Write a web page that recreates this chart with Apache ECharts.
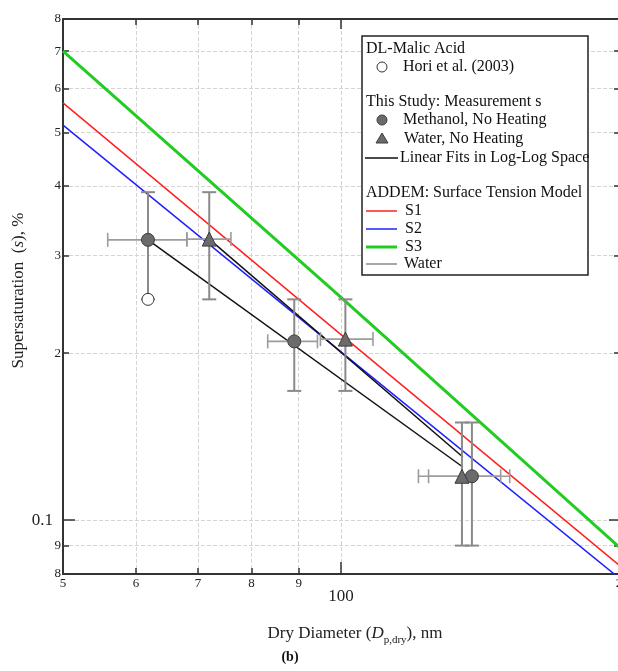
<!DOCTYPE html>
<html><head><meta charset="utf-8">
<script src="https://cdn.jsdelivr.net/npm/echarts@6/dist/echarts.min.js"></script>
<style>html,body{margin:0;padding:0;background:#fff}#c{width:618px;height:671px}</style>
</head><body><div id="c"></div>
<script>
// ---- tick values / labels ----
const xTickValues = [50, 60, 70, 80, 90, 100, 200];
const xTickLabels = ['5', '6', '7', '8', '9', '100', '2'];
const xMinorTicks = [60, 70, 80, 90];
const xMajorTicks = [100];
const yTickValues = [0.08, 0.09, 0.1, 0.2, 0.3, 0.4, 0.5, 0.6, 0.7, 0.8];
const yTickLabels = ['8', '9', '0.1', '2', '3', '4', '5', '6', '7', '8'];
const yMinorTicks = [0.09, 0.2, 0.3, 0.4, 0.5, 0.6, 0.7];
const yMajorTicks = [0.1];

// ---- ADDEM model lines ----
const modelX = [50, 100, 200];
const s1Y = [0.565, 0.216, 0.083];
const s2Y = [0.515, 0.201, 0.0787];
const s3Y = [0.70, 0.252, 0.0895];

// ---- Measurements ----
const methX = [61.8, 89.0, 138.6];
const methY = [0.32, 0.21, 0.12];
const methXLo = [55.9, 83.3, 124.4];
const methXHi = [68.1, 94.3, 152.3];
const methYLo = [0.25, 0.171, 0.09];
const methYHi = [0.39, 0.25, 0.15];

const waterX = [72.0, 101.1, 135.2];
const waterY = [0.321, 0.212, 0.12];
const waterXLo = [68.1, 95.0, 121.3];
const waterXHi = [76.0, 108.3, 148.9];
const waterYLo = [0.25, 0.171, 0.09];
const waterYHi = [0.39, 0.25, 0.15];

const horiX = [61.8];
const horiY = [0.25];

// ---- Linear fits (log-log) ----
const methFitX = [61.8, 135.5];
const methFitY = [0.32, 0.1247];
const waterFitX = [72.0, 135.5];
const waterFitY = [0.321, 0.130];

const FONT = '"Liberation Serif", "Times New Roman", serif';
const zip = (a, b) => a.map((v, i) => [v, b[i]]);
const findLabel = (vals, labs, v) => {
  const i = vals.findIndex(t => Math.abs(t - v) < 1e-3 * t);
  return i < 0 ? '' : labs[i];
};

const chart = echarts.init(document.getElementById('c'), null, {renderer: 'canvas'});

function axisBase(pos) {
  return {
    type: 'log', logBase: 10, position: pos,
    min: pos === 'bottom' || pos === 'top' ? 50 : 0.08,
    max: pos === 'bottom' || pos === 'top' ? 200 : 0.8,
    axisLine: {show: true, onZero: false, lineStyle: {color: '#333', width: 2}},
    axisLabel: {show: false},
    splitLine: {show: false},
    minorTick: {show: false},
    minorSplitLine: {show: false}
  };
}
function ticks(custom, len) {
  return {show: true, inside: true, length: len, customValues: custom, lineStyle: {color: '#333', width: 1.5}};
}
const gridLine = {show: true, lineStyle: {color: '#d4d4d4', type: 'dashed', width: 1}};

const xAxes = [
  Object.assign(axisBase('bottom'), {
    axisTick: ticks(xMinorTicks, 6),
    splitLine: gridLine,
    axisLabel: {
      show: true, customValues: xTickValues, margin: 3,
      formatter: v => {
        const s = findLabel(xTickValues, xTickLabels, v);
        return s === '100' ? '{big|' + s + '}' : '{sm|' + s + '}';
      },
      rich: {
        sm: {fontFamily: FONT, fontSize: 13, color: '#222'},
        big: {fontFamily: FONT, fontSize: 17, color: '#222', padding: [11, 0, 0, 0]}
      }
    },
    name: 'Dry Diameter ({i|D}{sub|p,dry}), nm',
    nameLocation: 'middle', nameGap: 48,
    nameTextStyle: {
      fontFamily: FONT, fontSize: 17, color: '#222', padding: [0, 0, 0, 28], lineHeight: 24,
      rich: {
        i: {fontFamily: FONT, fontSize: 17, fontStyle: 'italic', color: '#222'},
        sub: {fontFamily: FONT, fontSize: 11, color: '#222', verticalAlign: 'bottom', lineHeight: 12}
      }
    }
  }),
  Object.assign(axisBase('bottom'), {axisLine: {show: false}, axisTick: ticks(xMajorTicks, 12), splitLine: gridLine}),
  Object.assign(axisBase('top'), {axisTick: ticks(xMinorTicks, 6)}),
  Object.assign(axisBase('top'), {axisLine: {show: false}, axisTick: ticks(xMajorTicks, 10)})
];
const yAxes = [
  Object.assign(axisBase('left'), {
    axisTick: ticks(yMinorTicks, 6),
    splitLine: gridLine,
    axisLabel: {
      show: true, customValues: yTickValues, margin: 2,
      formatter: v => {
        const s = findLabel(yTickValues, yTickLabels, v);
        return s === '0.1' ? '{big|' + s + '}' : '{sm|' + s + '}';
      },
      rich: {
        sm: {fontFamily: FONT, fontSize: 13, color: '#222'},
        big: {fontFamily: FONT, fontSize: 17, color: '#222', padding: [0, 8, 0, 0]}
      }
    },
    name: 'Supersaturation  ({i|s}), %',
    nameLocation: 'middle', nameGap: 36, nameMoveOverlap: false,
    nameTextStyle: {
      fontFamily: FONT, fontSize: 17, color: '#222', padding: [0, 0, 0, 12],
      rich: {i: {fontFamily: FONT, fontSize: 17, fontStyle: 'italic', color: '#222'}}
    }
  }),
  Object.assign(axisBase('left'), {axisLine: {show: false}, axisTick: ticks(yMajorTicks, 12), splitLine: gridLine}),
  Object.assign(axisBase('right'), {axisTick: ticks(yMinorTicks, 5)}),
  Object.assign(axisBase('right'), {axisLine: {show: false}, axisTick: ticks(yMajorTicks, 10)})
];

function renderErr(params, api) {
  const x = api.value(0), y = api.value(1);
  const c = api.coord([x, y]);
  const xl = api.coord([api.value(2), y])[0], xh = api.coord([api.value(3), y])[0];
  const yl = api.coord([x, api.value(4)])[1], yh = api.coord([x, api.value(5)])[1];
  const cap = 7;
  const vs = {stroke: '#8a8a8a', lineWidth: 2};
  const hs = {stroke: '#9c9c9c', lineWidth: 1.6};
  return {type: 'group', children: [
    {type: 'line', shape: {x1: xl, y1: c[1], x2: xh, y2: c[1]}, style: hs},
    {type: 'line', shape: {x1: xl, y1: c[1] - cap, x2: xl, y2: c[1] + cap}, style: hs},
    {type: 'line', shape: {x1: xh, y1: c[1] - cap, x2: xh, y2: c[1] + cap}, style: hs},
    {type: 'line', shape: {x1: c[0], y1: yl, x2: c[0], y2: yh}, style: vs},
    {type: 'line', shape: {x1: c[0] - cap, y1: yl, x2: c[0] + cap, y2: yl}, style: vs},
    {type: 'line', shape: {x1: c[0] - cap, y1: yh, x2: c[0] + cap, y2: yh}, style: vs}
  ]};
}
const errData = (X, Y, XL, XH, YL, YH) => X.map((v, i) => [v, Y[i], XL[i], XH[i], YL[i], YH[i]]);

const lineSeries = (name, xs, ys, color, width, z) => ({
  name, type: 'line', data: zip(xs, ys), symbol: 'none', clip: true, z,
  lineStyle: {color, width}, silent: true
});

// ---- legend (graphic) ----
const LX = 362, LY = 36, LZ = 100;
const lt = (x, y, text) => ({type: 'text', z: LZ + 1, x, y, style: {text, font: '16px ' + FONT, fill: '#111', textVerticalAlign: 'middle'}});
const ll = (y, color, w) => ({type: 'line', z: LZ + 1, shape: {x1: 366, y1: y, x2: 397, y2: y}, style: {stroke: color, lineWidth: w}});
const legend = [
  {type: 'rect', z: LZ, shape: {x: LX, y: LY, width: 226, height: 239}, style: {fill: '#fff', stroke: '#222', lineWidth: 1.5}},
  lt(366, 49, 'DL-Malic Acid'),
  {type: 'circle', z: LZ + 1, shape: {cx: 382, cy: 67, r: 5}, style: {fill: '#fff', stroke: '#333', lineWidth: 1}},
  lt(403, 67, 'Hori et al. (2003)'),
  lt(366, 102, 'This Study: Measurement s'),
  {type: 'circle', z: LZ + 1, shape: {cx: 382, cy: 120, r: 5}, style: {fill: '#6b6b6b', stroke: '#3d3d3d', lineWidth: 1}},
  lt(403, 120, 'Methanol, No Heating'),
  {type: 'polygon', z: LZ + 1, shape: {points: [[382, 133], [388, 143], [376, 143]]}, style: {fill: '#6b6b6b', stroke: '#3d3d3d', lineWidth: 1}},
  lt(404, 139, 'Water, No Heating'),
  {type: 'line', z: LZ + 1, shape: {x1: 365, y1: 158, x2: 398, y2: 158}, style: {stroke: '#111', lineWidth: 1.5}},
  lt(400, 158, 'Linear Fits in Log-Log Space'),
  lt(366, 193, 'ADDEM: Surface Tension Model'),
  ll(211, '#ff2020', 1.5), lt(405, 211, 'S1'),
  ll(229, '#2020ff', 1.5), lt(405, 229, 'S2'),
  ll(247, '#22cc22', 3), lt(405, 247, 'S3'),
  ll(264, '#8a8a8a', 1.5), lt(404, 264, 'Water')
];

chart.setOption({
  animation: false,
  backgroundColor: '#fff',
  grid: {left: 63, right: -1, top: 19, bottom: 97, containLabel: false, outerBoundsMode: 'none'},
  xAxis: xAxes,
  yAxis: yAxes,
  series: [
    lineSeries('S1', modelX, s1Y, '#ff2020', 1.5, 2),
    lineSeries('S2', modelX, s2Y, '#2020ff', 1.5, 2),
    lineSeries('S3', modelX, s3Y, '#22cc22', 3, 2),
    lineSeries('Methanol fit', methFitX, methFitY, '#111', 1.5, 3),
    lineSeries('Water fit', waterFitX, waterFitY, '#111', 1.5, 3),
    {name: 'Methanol err', type: 'custom', renderItem: renderErr, z: 4, silent: true,
     encode: {x: 0, y: 1}, data: errData(methX, methY, methXLo, methXHi, methYLo, methYHi)},
    {name: 'Water err', type: 'custom', renderItem: renderErr, z: 4, silent: true,
     encode: {x: 0, y: 1}, data: errData(waterX, waterY, waterXLo, waterXHi, waterYLo, waterYHi)},
    {name: 'Hori et al. (2003)', type: 'scatter', z: 5, symbol: 'circle', symbolSize: 12,
     itemStyle: {color: '#fff', borderColor: '#333', borderWidth: 1, opacity: 1}, data: zip(horiX, horiY)},
    {name: 'Methanol, No Heating', type: 'scatter', z: 5, symbol: 'circle', symbolSize: 13,
     itemStyle: {color: '#6b6b6b', borderColor: '#3d3d3d', borderWidth: 1, opacity: 1}, data: zip(methX, methY)},
    {name: 'Water, No Heating', type: 'scatter', z: 6, symbol: 'triangle', symbolSize: 14,
     itemStyle: {color: '#6b6b6b', borderColor: '#3d3d3d', borderWidth: 1, opacity: 1}, data: zip(waterX, waterY)}
  ],
  graphic: [
    {type: 'group', children: legend},
    {type: 'text', x: 290, y: 657, style: {text: '(b)', font: 'bold 14px ' + FONT, fill: '#111', textAlign: 'center', textVerticalAlign: 'middle'}}
  ]
});
</script></body></html>
